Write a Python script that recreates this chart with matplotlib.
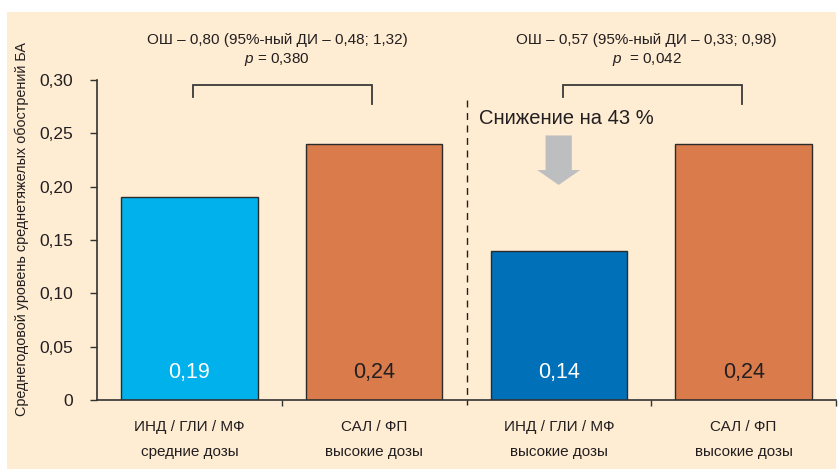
import matplotlib
matplotlib.use("Agg")
import matplotlib.pyplot as plt
from matplotlib.patches import Rectangle, Polygon
from matplotlib import font_manager

# Data
categories = ["ИНД / ГЛИ / МФ\nсредние дозы", "САЛ / ФП\nвысокие дозы",
              "ИНД / ГЛИ / МФ\nвысокие дозы", "САЛ / ФП\nвысокие дозы"]
values = [0.19, 0.24, 0.14, 0.24]
value_labels = ["0,19", "0,24", "0,14", "0,24"]
bar_colors = ["#00B1EB", "#D97B4B", "#0070B9", "#D97B4B"]
label_colors = ["white", "#231F20", "white", "#231F20"]
yticks = [0, 0.05, 0.10, 0.15, 0.20, 0.25, 0.30]
ytick_labels = ["0", "0,05", "0,10", "0,15", "0,20", "0,25", "0,30"]
comparisons = [
    (0, 1, "ОШ – 0,80 (95%-ный ДИ – 0,48; 1,32)", "= 0,380"),
    (2, 3, "ОШ – 0,57 (95%-ный ДИ – 0,33; 0,98)", " = 0,042"),
]

names = {f.name for f in font_manager.fontManager.ttflist}
narrow = "Liberation Sans Narrow" if "Liberation Sans Narrow" in names else "Liberation Sans"
plt.rcParams["font.family"] = [narrow, "DejaVu Sans"]
plt.rcParams["mathtext.fontset"] = "custom"
plt.rcParams["mathtext.it"] = "Liberation Sans:italic"
plt.rcParams["mathtext.rm"] = "Liberation Sans"
TXT = "#231F20"
BG = "#FEECD3"

fig = plt.figure(figsize=(8.38, 4.72), dpi=100)
fig.patch.set_facecolor("white")
fig.add_artist(Rectangle((7 / 838, 0.006), 829 / 838, 1 - 12 / 472 - 0.006,
                         transform=fig.transFigure, facecolor=BG,
                         edgecolor="none", zorder=-10))

ax = fig.add_axes([97 / 838, 1 - 400 / 472, 739 / 838, 320 / 472])
ax.set_facecolor("none")

x = list(range(len(values)))
ax.bar(x, values, width=0.74, color=bar_colors, edgecolor="#2B2B2B",
       linewidth=1.0, zorder=2)

for xi, lab, c in zip(x, value_labels, label_colors):
    ax.text(xi, 0.0255, lab, ha="center", va="center", fontsize=15.5, color=c, zorder=3)

for xi, cat in zip(x, categories):
    top, bottom = cat.split("\n")
    ax.text(xi, -0.0253, top, ha="center", va="center", fontsize=11,
            color=TXT, clip_on=False)
    ax.text(xi, -0.0488, bottom, ha="center", va="center", fontsize=11,
            color=TXT, clip_on=False)

ax.set_xlim(-0.5, 3.5)
ax.set_ylim(0, 0.30)
ax.set_yticks(yticks)
ax.set_yticklabels(ytick_labels, fontsize=12.5, color=TXT)
ax.set_xticks([0.5, 2.5, 3.5])
ax.set_xticklabels([])
ax.tick_params(axis="y", direction="out", length=5, width=1, color="#333333", pad=12)
ax.tick_params(axis="x", direction="out", length=4, width=1, color="#333333")
for s in ["top", "right"]:
    ax.spines[s].set_visible(False)
for s in ["left", "bottom"]:
    ax.spines[s].set_color("#333333")
    ax.spines[s].set_linewidth(1.2)

# group separator
ax.plot([1.5, 1.5], [0.281, -0.005], color="#231F20", lw=1.0,
        dashes=(5, 4), clip_on=False)

# significance brackets with odds-ratio text
for a, b, line1, pval in comparisons:
    xa, xb = a + 0.02, b - 0.01
    ax.plot([xa, xa, xb, xb], [0.284, 0.2953, 0.2953, 0.2775],
            color="#3A3A3A", lw=1.3, clip_on=False, solid_joinstyle="miter")
    cx = (a + b) / 2 - 0.025
    ax.text(cx, 0.3375, line1, ha="center", va="center", fontsize=11,
            color=TXT, clip_on=False)
    ax.text(cx, 0.3188, r"$p$" + " " + pval, ha="center", va="center",
            fontsize=11, color=TXT, clip_on=False)

# reduction arrow
ax.text(2.04, 0.264, "Снижение на 43 %", ha="center", va="center",
        fontsize=14.5, color=TXT, clip_on=False)
ax.add_patch(Polygon([(1.928, 0.248), (2.07, 0.248), (2.07, 0.2156),
                      (2.115, 0.2156), (1.999, 0.2016), (1.883, 0.2156),
                      (1.928, 0.2156)], closed=True, facecolor="#BDBEC0",
                     edgecolor="none", clip_on=False, zorder=3))

fig.text(22 / 838, 1 - 229 / 472,
         "Среднегодовой уровень среднетяжелых обострений БА",
         rotation=90, ha="center", va="center", fontsize=10.4, color=TXT)

fig.savefig("out.png", dpi=100, facecolor=fig.get_facecolor())
